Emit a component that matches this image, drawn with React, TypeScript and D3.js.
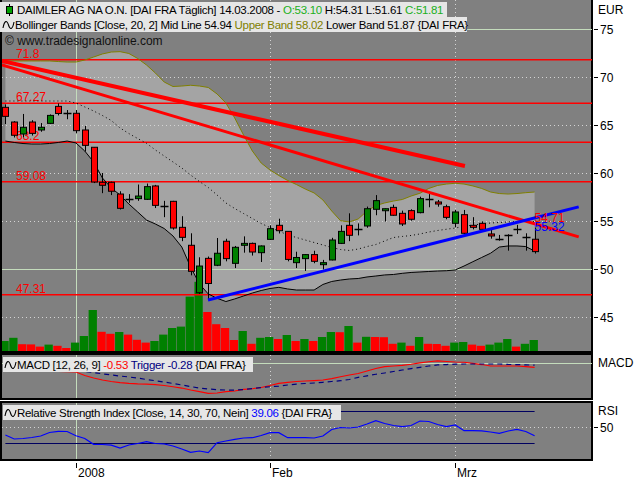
import React from 'react';
import * as d3 from 'd3';

// Daily candles, 14.12.2007 .. 14.03.2008 (index 0..60)
const opens = [66.84, 65.31, 64.06, 65.31, 64.48, 65.17, 66.94, 66.28, 66.22, 64.48,
  62.68, 59.03, 59.03, 57.81, 57.33, 57.33, 57.26, 58.65, 56.60, 57.05,
  54.34, 52.47, 47.53, 51.11, 50.39, 52.89, 50.59, 52.47, 52.67, 51.70,
  53.09, 54.55, 53.92, 50.66, 51.08, 51.50, 50.45, 50.94, 52.67, 54.55,
  54.20, 54.48, 56.22, 56.07, 56.42, 55.80, 56.08, 55.87, 57.33, 56.98,
  56.49, 54.76, 55.66, 54.55, 54.76, 53.65, 53.16, 53.58, 54.20, 53.37, 53.10];
const highs = [67.15, 65.40, 66.15, 65.50, 65.20, 66.10, 67.25, 66.56, 66.56, 64.90,
  62.68, 60.00, 59.10, 58.10, 57.80, 58.80, 58.90, 58.76, 57.10, 57.10,
  55.50, 53.72, 51.22, 51.30, 53.23, 53.15, 52.40, 53.40, 52.75, 52.45,
  54.55, 55.24, 53.92, 51.80, 51.55, 51.90, 50.95, 53.25, 54.55, 55.80,
  54.75, 56.50, 57.70, 56.30, 56.70, 56.08, 56.22, 57.53, 57.80, 57.19,
  56.70, 56.15, 56.15, 55.40, 54.97, 54.06, 53.55, 53.62, 54.60, 53.72, 54.31];
const lows = [65.10, 63.70, 63.70, 63.90, 64.30, 65.10, 66.00, 65.60, 64.13, 62.25,
  58.95, 57.90, 57.70, 56.20, 56.90, 57.10, 57.20, 56.35, 55.40, 54.10,
  52.90, 49.34, 47.40, 46.80, 50.30, 50.80, 50.10, 51.70, 51.40, 50.73,
  53.00, 53.70, 50.80, 50.10, 49.80, 50.60, 49.95, 50.90, 52.60, 52.90,
  53.50, 54.30, 55.60, 54.95, 55.55, 54.48, 55.03, 55.80, 56.43, 56.49,
  55.18, 54.35, 53.65, 54.13, 54.06, 53.16, 52.95, 51.91, 53.65, 51.91, 51.61];
const closes = [65.90, 63.93, 64.76, 64.13, 64.76, 66.00, 66.20, 66.28, 64.41, 62.88,
  59.06, 58.72, 58.10, 56.32, 57.33, 57.60, 58.58, 56.63, 56.60, 54.27,
  53.30, 49.76, 50.31, 48.49, 51.64, 51.08, 52.26, 52.67, 51.77, 52.40,
  54.20, 53.99, 51.00, 51.20, 51.50, 50.80, 50.66, 53.02, 53.92, 53.51,
  54.20, 56.28, 57.12, 56.28, 55.60, 54.69, 55.18, 57.33, 57.33, 56.77,
  55.38, 55.94, 53.72, 54.34, 54.13, 53.44, 53.16, 53.58, 54.20, 53.37, 51.81];
// volume in million shares
const volumes = [2.5, 3.3, 1.7, 1.65, 1.1, 1.6, 1.3, 0.75, 2.1, 3.75,
  10.25, 4.8, 4.3, 4.75, 4.1, 2.8, 2.1, 2.5, 4.1, 5.75,
  6.1, 13.6, 17.3, 9.75, 6.7, 5.75, 2.75, 5.0, 1.8, 3.3,
  3.5, 3.0, 4.0, 2.5, 3.0, 2.5, 3.5, 4.75, 4.7, 6.25,
  2.1, 3.55, 3.5, 3.45, 1.8, 2.1, 1.3, 3.5, 1.8, 1.75,
  1.3, 2.1, 2.25, 1.6, 1.3, 1.6, 2.1, 3.0, 1.1, 1.8, 2.75];

// Bollinger Bands (20, 2)
const bbUpper = [71.67, 71.67, 71.67, 71.67, 71.67, 71.67, 71.61, 71.56, 71.56, 71.77,
  72.08, 72.40, 72.60, 72.64, 72.45, 71.93, 71.25, 70.42, 69.48, 69.01,
  69.06, 69.14, 69.06, 68.91, 68.23, 67.29, 65.73, 63.96, 62.29, 61.04,
  60.31, 59.74, 59.22, 58.80, 58.33, 57.92, 57.19, 56.04, 55.03, 54.90,
  55.21, 56.04, 56.61, 56.88, 57.08, 57.24, 57.60, 57.89, 58.39, 58.70,
  58.85, 58.93, 58.85, 58.65, 58.39, 58.02, 57.86, 57.81, 57.86, 57.95, 58.02];
const bbMid = [67.50, 67.50, 67.50, 67.50, 67.50, 67.50, 67.50, 67.50, 67.29, 66.88,
  66.46, 65.99, 65.47, 64.69, 64.11, 63.59, 63.09, 62.40, 61.77, 61.15,
  60.52, 59.79, 59.11, 58.49, 57.71, 56.88, 56.30, 55.78, 55.26, 54.74,
  54.32, 53.96, 53.54, 53.28, 53.02, 52.76, 52.50, 52.24, 52.03, 51.93,
  52.08, 52.34, 52.55, 52.92, 53.28, 53.39, 53.49, 53.65, 53.85, 54.01,
  54.14, 54.27, 54.43, 54.58, 54.69, 54.79, 54.84, 54.90, 54.95, 55.00, 54.94];
const bbLower = [63.33, 63.18, 63.07, 63.02, 63.02, 63.07, 63.18, 63.33, 63.13, 62.29,
  61.15, 59.48, 58.44, 57.71, 56.77, 55.94, 55.10, 54.69, 54.22, 53.44,
  52.29, 50.21, 48.44, 47.40, 46.95, 46.61, 46.88, 47.19, 47.50, 47.76,
  47.97, 48.09, 47.92, 47.81, 47.81, 47.81, 48.39, 48.70, 48.85, 48.96,
  49.01, 49.17, 49.27, 49.38, 49.43, 49.55, 49.64, 49.69, 49.74, 49.79,
  49.82, 49.90, 50.31, 50.76, 51.20, 51.64, 52.29, 52.40, 52.40, 52.34, 51.87];

// MACD (12, 26, 9)
const macdLine = [-0.84, -0.86, -0.90, -0.92, -0.95, -0.98, -1.01, -1.03, -1.07, -1.47,
  -1.76, -1.99, -2.16, -2.28, -2.37, -2.43, -2.45, -2.51, -2.62, -2.76,
  -2.91, -3.14, -3.33, -3.52, -3.48, -3.33, -3.25, -3.06, -2.99, -2.85,
  -2.62, -2.37, -2.25, -2.16, -2.10, -2.05, -1.99, -1.82, -1.61, -1.41,
  -1.24, -0.95, -0.67, -0.46, -0.38, -0.30, -0.18, -0.03, 0.11, 0.20,
  0.14, 0.08, 0.05, -0.07, -0.21, -0.38, -0.38, -0.38, -0.38, -0.44, -0.53];
const macdTrigger = [-0.75, -0.77, -0.79, -0.81, -0.83, -0.86, -0.88, -0.91, -0.95, -1.01,
  -1.13, -1.28, -1.41, -1.53, -1.64, -1.76, -1.93, -2.07, -2.22, -2.39,
  -2.56, -2.74, -2.91, -3.02, -3.10, -3.14, -3.14, -3.08, -2.97, -2.85,
  -2.76, -2.68, -2.56, -2.45, -2.39, -2.33, -2.25, -2.16, -2.07, -1.93,
  -1.68, -1.51, -1.33, -1.18, -1.01, -0.84, -0.67, -0.53, -0.38, -0.26,
  -0.21, -0.17, -0.15, -0.15, -0.15, -0.15, -0.15, -0.20, -0.22, -0.25, -0.28];

// RSI (14)
const rsiLine = [40.0, 35.0, 35.6, 36.9, 38.75, 43.1, 44.6, 44.4, 39.0, 35.6,
  28.4, 28.1, 27.25, 23.75, 27.5, 29.4, 31.6, 29.4, 28.75, 26.25,
  22.5, 18.4, 20.0, 17.9, 30.4, 32.5, 34.6, 36.25, 36.6, 39.4,
  42.9, 42.9, 36.6, 36.6, 36.6, 36.25, 38.75, 46.9, 49.4, 48.75,
  50.0, 53.75, 57.9, 54.4, 51.9, 50.4, 51.9, 57.5, 56.9, 53.1,
  50.6, 52.5, 45.4, 45.4, 45.25, 43.75, 42.1, 45.0, 46.9, 44.4, 39.06];

const priceTicks = [75, 70, 65, 60, 55, 50, 45];
const solidPriceTicks = [75, 50];
const levels = [71.8, 67.27, 63.2, 59.08, 47.31];
const xTicks = [
  { i: 8, label: '2008', solid: true },
  { i: 30, label: 'Feb', solid: false },
  { i: 51, label: 'Mrz', solid: false },
];
// trend lines as [bar index, price]
const trendRedUpper: [number, number][] = [[-0.4, 71.67], [52.1, 60.73]];
const trendRedLower: [number, number][] = [[-0.4, 71.25], [65.0, 53.34]];
const trendBlue: [number, number][] = [[22.97, 46.77], [65.0, 56.47]];

const FONT = 'Liberation Sans, Arial, sans-serif';
const RIGHT = 592;
const GRID = '#d4d4d4';
const PALE = '#c4dcbc';
const PANEL = '#808080';
const BOX = '#e6e6e6';
const TXT = { fontSize: 11.5, letterSpacing: -0.3 };

const x = d3.scaleLinear().domain([0, 60]).range([5.4, 534.6]);
const y = d3.scaleLinear().domain([45, 75]).range([317, 29]);
const yVol = d3.scaleLinear().domain([0, 25]).range([351, 251]);
const yMacd = d3.scaleLinear().domain([-4.17, 1.0]).range([399, 354]);
const yRsi = d3.scaleLinear().domain([10, 80]).range([459, 403]);

const idx = d3.range(opens.length);

const Wave = ({ x0, y0 }: { x0: number; y0: number }) => (
  <path d={`M${x0},${y0 + 3} C${x0 + 1.5},${y0 - 5} ${x0 + 4},${y0 - 5} ${x0 + 5.5},${y0} S${x0 + 9.5},${y0 + 5} ${x0 + 11},${y0 - 3}`}
    fill="none" stroke="#000" strokeWidth={1.1} />
);

const valueAt = (pts: [number, number][], i: number) =>
  pts[0][1] + (pts[1][1] - pts[0][1]) * (i - pts[0][0]) / (pts[1][0] - pts[0][0]);

export default function App() {
  const bandArea = d3.area<number>().x(i => x(i)).y0(i => y(bbLower[i])).y1(i => y(bbUpper[i]))(idx) || '';
  const line = (arr: number[], sy: d3.ScaleLinear<number, number>) =>
    d3.line<number>().x(i => x(i)).y(i => sy(arr[i]))(idx) || '';
  const seg = (pts: [number, number][]) =>
    d3.line<[number, number]>().x(d => x(d[0])).y(d => y(d[1]))(pts) || '';

  const redEnd = valueAt(trendRedLower, 60);
  const blueEnd = valueAt(trendBlue, 60);

  const vGrid = (top: number, bottom: number) => xTicks.map(t => (
    <line key={t.label} x1={Math.round(x(t.i)) + 0.5} x2={Math.round(x(t.i)) + 0.5} y1={top} y2={bottom}
      stroke={t.solid ? PALE : GRID} strokeDasharray={t.solid ? undefined : '1 3'} />
  ));

  return (
    <svg width={640} height={480} style={{ position: 'absolute', left: 0, top: 0, background: '#fff' }}
      fontFamily={FONT}>
      <rect width={640} height={480} fill="#fff" />
      <defs>
        <clipPath id="mainClip"><rect x={2} y={0} width={RIGHT - 2} height={351} /></clipPath>
      </defs>

      {/* main panel */}
      <rect x={1} y={-1} width={RIGHT - 1} height={353} fill={PANEL} stroke="#000" strokeWidth={2} />
      <g clipPath="url(#mainClip)">
        <path d={bandArea} fill="#a4a4a4" />
        {priceTicks.map(v => (
          <line key={v} x1={2} x2={RIGHT} y1={Math.round(y(v)) + 0.5} y2={Math.round(y(v)) + 0.5}
            stroke={solidPriceTicks.includes(v) ? PALE : GRID}
            strokeDasharray={solidPriceTicks.includes(v) ? undefined : '1 3'} />
        ))}
        {vGrid(0, 351)}
        {idx.map(i => (
          <rect key={i} x={x(i) - 5} y={yVol(volumes[i])} width={8.3} height={351 - yVol(volumes[i])}
            fill={i === 0 || volumes[i] >= volumes[i - 1] ? '#008000' : '#ff0000'} />
        ))}
        {levels.map(v => (
          <g key={v}>
            <line x1={2} x2={RIGHT} y1={y(v)} y2={y(v)} stroke="#ff0000" strokeWidth={1.5} />
            <text x={16} y={y(v) - 2} fontSize={12} fill="#ff0000">{v}</text>
          </g>
        ))}
        <path d={line(bbUpper, y)} fill="none" stroke="#808000" strokeWidth={1} />
        <path d={line(bbLower, y)} fill="none" stroke="#000" strokeWidth={1} />
        <path d={line(bbMid, y)} fill="none" stroke="#000" strokeWidth={1} strokeDasharray="1 3" />
        {idx.map(i => {
          const cx = Math.round(x(i)) + 0.5;
          const doji = Math.abs(opens[i] - closes[i]) < 0.03;
          const top = y(Math.max(opens[i], closes[i]));
          const bot = y(Math.min(opens[i], closes[i]));
          return (
            <g key={i}>
              <line x1={cx} x2={cx} y1={y(highs[i])} y2={y(lows[i])} stroke="#000" />
              {doji ? (
                <line x1={cx - 4} x2={cx + 4} y1={Math.round(top) + 0.5} y2={Math.round(top) + 0.5} stroke="#000" strokeWidth={1.5} />
              ) : (
                <rect x={cx - 3} y={top} width={6} height={Math.max(1.5, bot - top)}
                  fill={closes[i] > opens[i] ? '#008000' : '#ff0000'} stroke="#000" strokeWidth={1} />
              )}
            </g>
          );
        })}
        <path d={seg(trendRedUpper)} stroke="#ff0000" strokeWidth={4} fill="none" />
        <path d={seg(trendRedLower)} stroke="#ff0000" strokeWidth={3} fill="none" />
        <path d={seg(trendBlue)} stroke="#0000ff" strokeWidth={3} fill="none" />
        <text x={x(60)} y={y(redEnd) - 2} fontSize={12} fill="#ff0000">{redEnd.toFixed(2)}</text>
        <text x={x(60)} y={y(blueEnd) + 13} fontSize={12} fill="#0000ff">{blueEnd.toFixed(2)}</text>
        <text x={5} y={45} fontSize={12} fill="#111">© www.tradesignalonline.com</text>
      </g>

      {/* header */}
      <rect x={0} y={2} width={447} height={15} fill={BOX} />
      <rect x={0} y={17} width={467} height={15} fill={BOX} />
      <line x1={9.5} x2={9.5} y1={4} y2={16} stroke="#000" />
      <rect x={6.5} y={6.5} width={6} height={7} fill="#00a000" stroke="#000" />
      <text x={17} y={14} {...TXT} fill="#000">
        DAIMLER AG NA O.N. [DAI FRA  Täglich] 14.03.2008 - <tspan fill="#20b020">O:53.10</tspan> H:54.31 L:51.61 <tspan fill="#20b020">C:51.81</tspan>
      </text>
      <Wave x0={3} y0={25} />
      <text x={15} y={29} {...TXT} fill="#000">
        Bollinger Bands [Close, 20, 2] Mid Line 54.94 <tspan fill="#808000">Upper Band 58.02</tspan> Lower Band 51.87 {'{DAI FRA}'}
      </text>

      {/* right axis main */}
      <text x={598} y={14} fontSize={12}>EUR</text>
      {priceTicks.map(v => (
        <g key={v}>
          <line x1={594} x2={598} y1={Math.round(y(v)) + 0.5} y2={Math.round(y(v)) + 0.5} stroke="#000" />
          <text x={600} y={y(v) + 4.5} fontSize={12}>{v}</text>
        </g>
      ))}

      {/* MACD panel */}
      <rect x={1} y={354} width={RIGHT - 1} height={45} fill={PANEL} stroke="#000" strokeWidth={2} />
      {vGrid(355, 398)}
      <line x1={2} x2={RIGHT} y1={Math.round(yMacd(0)) + 0.5} y2={Math.round(yMacd(0)) + 0.5} stroke={PALE} />
      <path d={line(macdLine, yMacd)} fill="none" stroke="#ff0000" strokeWidth={1.2} />
      <path d={line(macdTrigger, yMacd)} fill="none" stroke="#000080" strokeWidth={1.2} strokeDasharray="5 4" />
      <rect x={3} y={357} width={250} height={15} fill={BOX} />
      <Wave x0={5} y0={365} />
      <text x={17} y={369} {...TXT}>
        MACD [12, 26, 9] <tspan fill="#ff0000">-0.53</tspan> <tspan fill="#000080">Trigger -0.28</tspan> {'{DAI FRA}'}
      </text>
      <text x={598} y={367} fontSize={12}>MACD</text>

      {/* RSI panel */}
      <rect x={1} y={402} width={RIGHT - 1} height={58} fill={PANEL} stroke="#000" strokeWidth={2} />
      {vGrid(403, 459)}
      <line x1={2} x2={RIGHT} y1={Math.round(yRsi(50)) + 0.5} y2={Math.round(yRsi(50)) + 0.5} stroke={GRID} strokeDasharray="1 3" />
      {[70, 30].map(v => (
        <line key={v} x1={x(0)} x2={x(60)} y1={Math.round(yRsi(v)) + 0.5} y2={Math.round(yRsi(v)) + 0.5} stroke="#000060" strokeWidth={1.2} />
      ))}
      <path d={line(rsiLine, yRsi)} fill="none" stroke="#0000ff" strokeWidth={1.2} />
      <rect x={3} y={405} width={338} height={15} fill={BOX} />
      <Wave x0={5} y0={413} />
      <text x={17} y={417} {...TXT}>
        Relative Strength Index [Close, 14, 30, 70, Nein] <tspan fill="#0000ff">39.06</tspan> {'{DAI FRA}'}
      </text>
      <text x={598} y={415} fontSize={12}>RSI</text>
      <line x1={594} x2={598} y1={Math.round(yRsi(50)) + 0.5} y2={Math.round(yRsi(50)) + 0.5} stroke="#000" />
      <text x={600} y={yRsi(50) + 4.5} fontSize={12}>50</text>

      {/* x axis */}
      {xTicks.map(t => (
        <g key={t.label}>
          <line x1={Math.round(x(t.i)) + 0.5} x2={Math.round(x(t.i)) + 0.5} y1={463} y2={468} stroke="#000" />
          <text x={Math.round(x(t.i)) + 2} y={477} fontSize={12}>{t.label}</text>
        </g>
      ))}
    </svg>
  );
}
